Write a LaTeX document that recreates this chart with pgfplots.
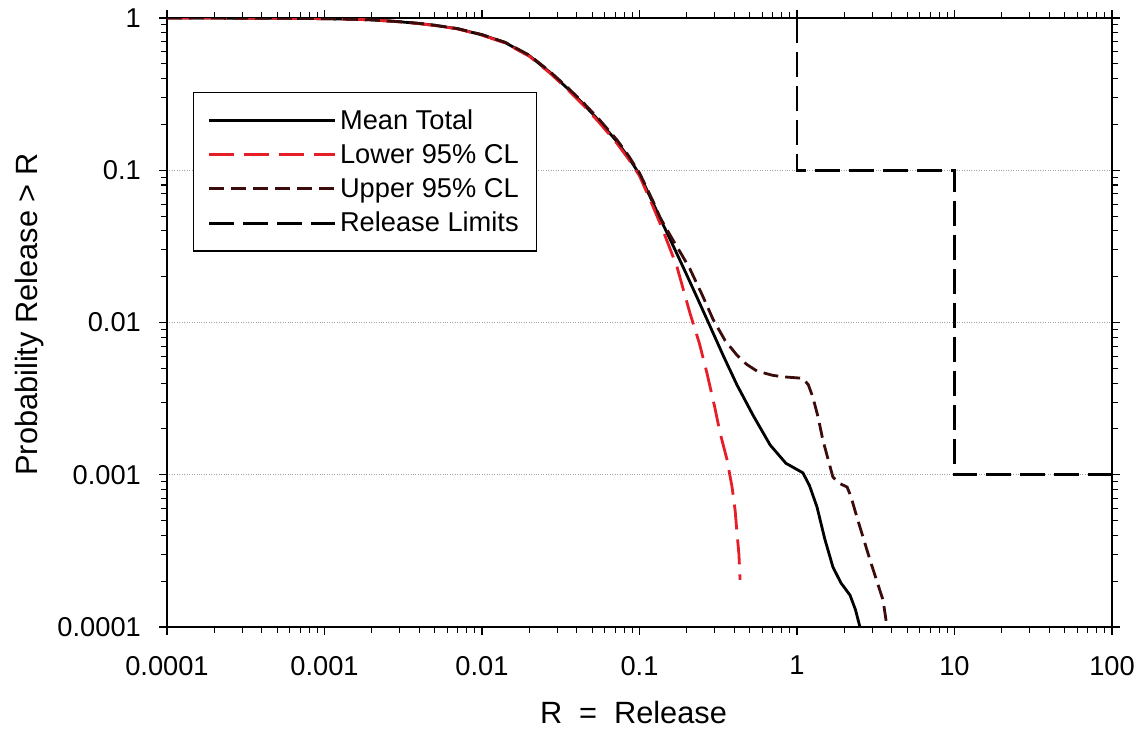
\documentclass[border=0pt]{standalone}
\usepackage{pgfplots}
\pgfplotsset{compat=1.18}
\usepackage{fontspec}
\setmainfont{Liberation Sans}
\definecolor{lowred}{RGB}{230,30,40}
\definecolor{upbrown}{RGB}{60,12,12}
\begin{document}
\begin{tikzpicture}
\begin{axis}[
  at={(0,0)}, anchor=south west,
  scale only axis,
  width=18.9cm, height=12.18cm,
  xmode=log, ymode=log,
  xmin=0.0001, xmax=100, ymin=0.0001, ymax=1,
  log ticks with fixed point,
  xtick={0.0001,0.001,0.01,0.1,1,10,100},
  xticklabels={0.0001,0.001,0.01,0.1,1,10,100},
  ytick={0.0001,0.001,0.01,0.1,1},
  yticklabels={0.0001,0.001,0.01,0.1,1},
  tick align=outside,
  major tick length=0.16cm, minor tick length=0.12cm,
  tick style={black, line width=0.6pt},
  axis line style={black, line width=0.9pt},
  ymajorgrids,
  major grid style={densely dotted, gray!70, line width=0.8pt},
  tick label style={font=\fontsize{15.5}{18}\selectfont},
  xticklabel style={yshift=-0.3cm},
  yticklabel style={xshift=-0.24cm},
  label style={font=\fontsize{17.5}{21}\selectfont},
  xlabel={R\hspace{0.55em}=\hspace{0.55em}Release},
  ylabel={Probability Release > R},
  xlabel style={at={(axis description cs:0.4937,-0.141)}, anchor=center},
  ylabel style={at={(axis description cs:-0.145,0.513)}, anchor=center},
  legend style={at={(axis description cs:0.0275,0.8785)}, anchor=north west,
    draw=black, line width=0.8pt, font=\fontsize{15.5}{18}\selectfont,
    row sep=3pt, inner xsep=8pt, inner ysep=7.5pt, cells={anchor=west}},
  legend image code/.code={\draw[#1] (0cm,0cm) -- (2.16cm,0cm); \path (0cm,0cm) -- (2.52cm,0cm);},
  legend cell align=left,
  clip=true,
]
\addplot[black, line width=1.6pt] coordinates {
(0.0001,1.0) (0.0002,0.999) (0.0005,0.997) (0.001,0.99) (0.0015,0.982)
(0.002,0.972) (0.003,0.945) (0.004,0.92) (0.005,0.895) (0.007,0.85)
(0.01,0.775) (0.014,0.69) (0.02,0.565) (0.027,0.44) (0.035,0.344)
(0.0438,0.274) (0.055,0.213) (0.072,0.154) (0.085,0.122) (0.1,0.094)
(0.122,0.0608) (0.135,0.0485) (0.16,0.0335)
(0.189,0.0232) (0.23,0.0149) (0.281,0.00942) (0.34,0.00607) (0.416,0.00389) (0.526,0.00246)
(0.675,0.00157) (0.85,0.00119) (1.09,0.00103) (1.2,0.00085) (1.34,0.000614) (1.5,0.00038) (1.69,0.000248)
(1.9,0.000195) (2.17,0.000162) (2.35,0.00013) (2.51,0.0001)
};
\addlegendentry{Mean Total}
\addplot[lowred, line width=1.6pt, dash pattern=on 0.5cm off 0.2cm] coordinates {
(0.0001,1.0) (0.0002,0.999) (0.0005,0.997) (0.001,0.99) (0.0015,0.982)
(0.002,0.972) (0.003,0.944) (0.004,0.918) (0.005,0.893) (0.007,0.848)
(0.01,0.772) (0.014,0.686) (0.02,0.56) (0.027,0.435) (0.035,0.339)
(0.0438,0.269) (0.055,0.208) (0.072,0.15) (0.085,0.119) (0.1,0.092)
(0.12,0.06) (0.14,0.041)
(0.173,0.0232) (0.209,0.01155) (0.24,0.0073) (0.268,0.00466) (0.3,0.0028) (0.325,0.00188)
(0.36,0.00125) (0.387,0.000831) (0.405,0.00058) (0.416,0.000414) (0.428,0.0003) (0.435,0.000204)
};
\addlegendentry{Lower 95\% CL}
\addplot[upbrown, line width=1.6pt, dash pattern=on 0.3cm off 0.14cm] coordinates {
(0.0001,1.0) (0.0002,0.999) (0.0005,0.997) (0.001,0.99) (0.0015,0.982)
(0.002,0.972) (0.003,0.946) (0.004,0.922) (0.005,0.897) (0.007,0.852)
(0.01,0.778) (0.014,0.693) (0.02,0.57) (0.027,0.445) (0.035,0.349)
(0.0438,0.279) (0.055,0.218) (0.072,0.158) (0.085,0.125) (0.1,0.096)
(0.122,0.0625) (0.135,0.049) (0.16,0.036) (0.185,0.028)
(0.209,0.0225) (0.25,0.0152) (0.293,0.0105) (0.35,0.0076) (0.416,0.0061) (0.48,0.0053) (0.557,0.0048)
(0.7,0.0045) (0.815,0.0044) (1.09,0.0043) (1.18,0.0039) (1.26,0.00324) (1.36,0.0024) (1.46,0.00169)
(1.69,0.000967) (1.85,0.00088) (2.08,0.000831) (2.2,0.00072) (2.40,0.000528) (2.91,0.000275)
(3.52,0.00015) (3.73,0.0001)
};
\addlegendentry{Upper 95\% CL}
\addplot[black, line width=1.6pt, dash pattern=on 0.5cm off 0.18cm] coordinates {
(1,1) (1,0.1) (10,0.1) (10,0.001) (100,0.001)
};
\addlegendentry{Release Limits}
\end{axis}
\pgfresetboundingbox
\path[use as bounding box] (-3.34cm,-2.08cm) rectangle (19.4cm,12.54cm);
\end{tikzpicture}
\end{document}
